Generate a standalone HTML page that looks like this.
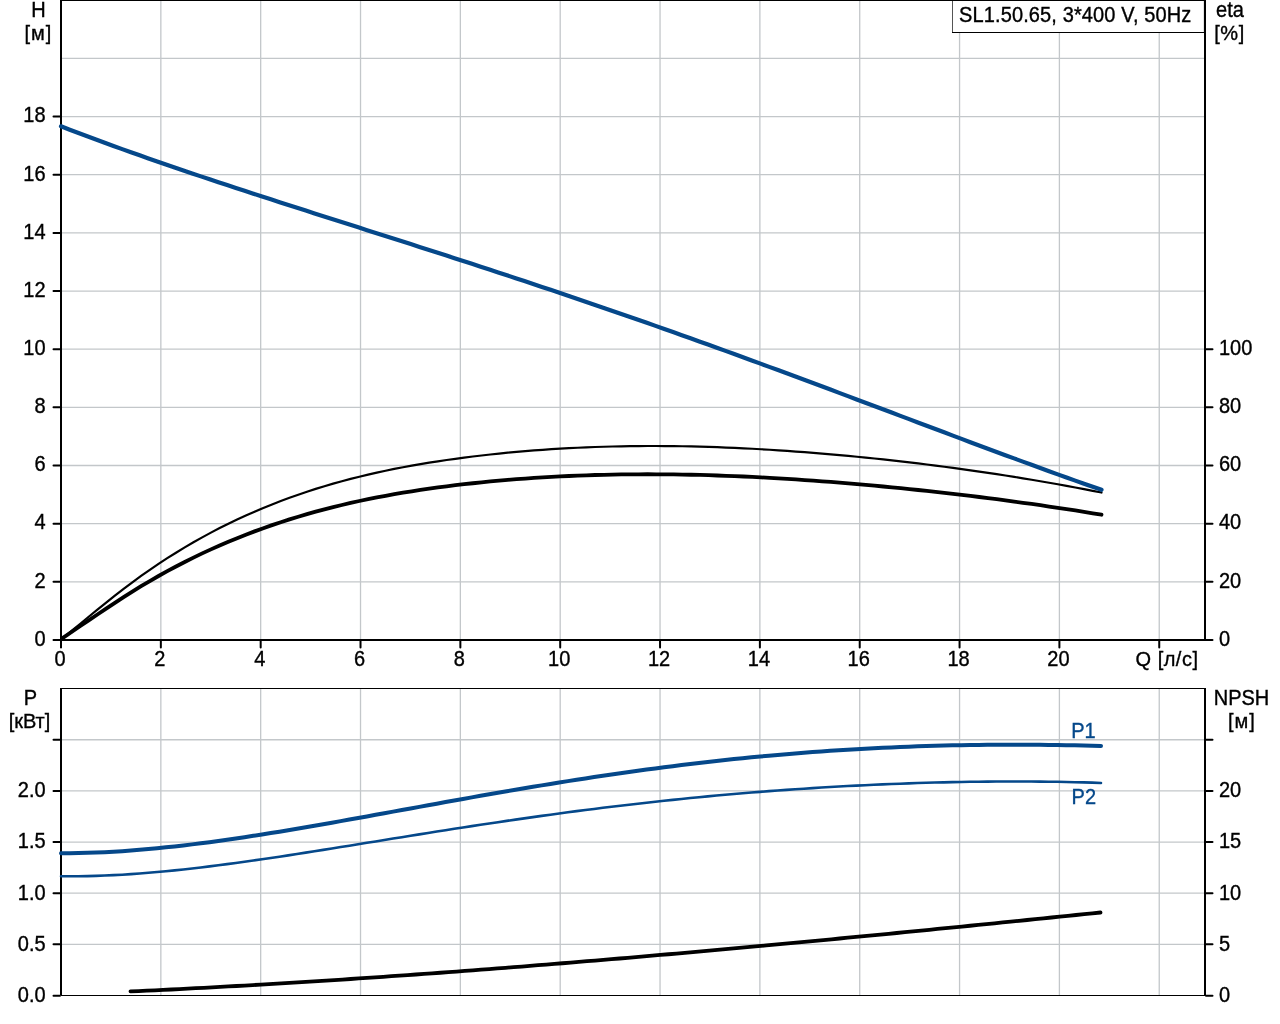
<!DOCTYPE html>
<html><head><meta charset="utf-8"><title>SL1.50.65 pump curve</title>
<style>
html,body{margin:0;padding:0;background:#fff;}
body{width:1280px;height:1024px;overflow:hidden;}
svg{display:block;}
.g{stroke:#c3c7ca;stroke-width:1.3;}
text{font-family:'Liberation Sans',sans-serif;font-size:20px;stroke:currentColor;stroke-width:0.35px;}
</style></head><body>
<svg width="1280" height="1024" viewBox="0 0 1280 1024">
<rect width="1280" height="1024" fill="#fff"/>
<line x1="160.84" y1="1" x2="160.84" y2="639" class="g"/>
<line x1="260.68" y1="1" x2="260.68" y2="639" class="g"/>
<line x1="360.52" y1="1" x2="360.52" y2="639" class="g"/>
<line x1="460.36" y1="1" x2="460.36" y2="639" class="g"/>
<line x1="560.20" y1="1" x2="560.20" y2="639" class="g"/>
<line x1="660.04" y1="1" x2="660.04" y2="639" class="g"/>
<line x1="759.88" y1="1" x2="759.88" y2="639" class="g"/>
<line x1="859.72" y1="1" x2="859.72" y2="639" class="g"/>
<line x1="959.56" y1="1" x2="959.56" y2="639" class="g"/>
<line x1="1059.40" y1="1" x2="1059.40" y2="639" class="g"/>
<line x1="1159.24" y1="1" x2="1159.24" y2="639" class="g"/>
<line x1="61" y1="581.84" x2="1204" y2="581.84" class="g"/>
<line x1="61" y1="523.68" x2="1204" y2="523.68" class="g"/>
<line x1="61" y1="465.52" x2="1204" y2="465.52" class="g"/>
<line x1="61" y1="407.36" x2="1204" y2="407.36" class="g"/>
<line x1="61" y1="349.20" x2="1204" y2="349.20" class="g"/>
<line x1="61" y1="291.04" x2="1204" y2="291.04" class="g"/>
<line x1="61" y1="232.88" x2="1204" y2="232.88" class="g"/>
<line x1="61" y1="174.72" x2="1204" y2="174.72" class="g"/>
<line x1="61" y1="116.56" x2="1204" y2="116.56" class="g"/>
<line x1="61" y1="58.40" x2="1204" y2="58.40" class="g"/>
<line x1="160.84" y1="689" x2="160.84" y2="995" class="g"/>
<line x1="260.68" y1="689" x2="260.68" y2="995" class="g"/>
<line x1="360.52" y1="689" x2="360.52" y2="995" class="g"/>
<line x1="460.36" y1="689" x2="460.36" y2="995" class="g"/>
<line x1="560.20" y1="689" x2="560.20" y2="995" class="g"/>
<line x1="660.04" y1="689" x2="660.04" y2="995" class="g"/>
<line x1="759.88" y1="689" x2="759.88" y2="995" class="g"/>
<line x1="859.72" y1="689" x2="859.72" y2="995" class="g"/>
<line x1="959.56" y1="689" x2="959.56" y2="995" class="g"/>
<line x1="1059.40" y1="689" x2="1059.40" y2="995" class="g"/>
<line x1="1159.24" y1="689" x2="1159.24" y2="995" class="g"/>
<line x1="61" y1="944.35" x2="1204" y2="944.35" class="g"/>
<line x1="61" y1="893.20" x2="1204" y2="893.20" class="g"/>
<line x1="61" y1="842.05" x2="1204" y2="842.05" class="g"/>
<line x1="61" y1="790.90" x2="1204" y2="790.90" class="g"/>
<line x1="61" y1="739.75" x2="1204" y2="739.75" class="g"/>
<rect x="952" y="0" width="252" height="33" fill="#fff"/>
<rect x="952" y="0" width="1" height="33" fill="#555"/>
<rect x="952" y="32" width="252" height="1" fill="#000"/>
<rect x="1203" y="1" width="1" height="31" fill="#e4e4e4"/>
<rect x="60" y="0" width="1146" height="1" fill="#000"/>
<rect x="60" y="0" width="2" height="648" fill="#000"/>
<rect x="60" y="639" width="1146" height="2" fill="#000"/>
<rect x="1204" y="0" width="2" height="641" fill="#000"/>
<rect x="60" y="688" width="1146" height="1" fill="#000"/>
<rect x="60" y="688" width="2" height="307" fill="#000"/>
<rect x="61" y="995" width="1145" height="1" fill="#000"/>
<rect x="1204" y="688" width="2" height="308" fill="#000"/>
<path d="M53.5,640.00 H60 M53.5,581.84 H60 M53.5,523.68 H60 M53.5,465.52 H60 M53.5,407.36 H60 M53.5,349.20 H60 M53.5,291.04 H60 M53.5,232.88 H60 M53.5,174.72 H60 M53.5,116.56 H60 M1206,640.00 H1212.5 M1206,581.84 H1212.5 M1206,523.68 H1212.5 M1206,465.52 H1212.5 M1206,407.36 H1212.5 M1206,349.20 H1212.5 M61.00,641 V647.5 M160.84,641 V647.5 M260.68,641 V647.5 M360.52,641 V647.5 M460.36,641 V647.5 M560.20,641 V647.5 M660.04,641 V647.5 M759.88,641 V647.5 M859.72,641 V647.5 M959.56,641 V647.5 M1059.40,641 V647.5 M1159.24,641 V647.5 M53.5,995.80 H60 M1206,995.80 H1212.5 M53.5,944.35 H60 M1206,944.35 H1212.5 M53.5,893.20 H60 M1206,893.20 H1212.5 M53.5,842.05 H60 M1206,842.05 H1212.5 M53.5,790.90 H60 M1206,790.90 H1212.5 M53.5,739.75 H60 M1206,739.75 H1212.5" stroke="#000" stroke-width="2" stroke-linecap="round" fill="none"/>
<path d="M62.50,638.44 L71.23,631.21 L79.96,623.98 L88.69,616.77 L97.42,609.62 L106.16,602.57 L114.89,595.64 L123.62,588.88 L132.35,582.31 L141.08,575.96 L149.81,569.83 L158.54,563.91 L167.27,558.20 L176.00,552.70 L184.74,547.39 L193.47,542.28 L202.20,537.37 L210.93,532.64 L219.66,528.09 L228.39,523.72 L237.12,519.52 L245.85,515.50 L254.58,511.64 L263.32,507.94 L272.05,504.40 L280.78,501.02 L289.51,497.78 L298.24,494.68 L306.97,491.73 L315.70,488.91 L324.43,486.22 L333.16,483.66 L341.89,481.23 L350.63,478.91 L359.36,476.71 L368.09,474.61 L376.82,472.63 L385.55,470.74 L394.28,468.95 L403.01,467.26 L411.74,465.65 L420.47,464.13 L429.21,462.69 L437.94,461.32 L446.67,460.03 L455.40,458.80 L464.13,457.64 L472.86,456.53 L481.59,455.49 L490.32,454.50 L499.05,453.58 L507.79,452.71 L516.52,451.89 L525.25,451.14 L533.98,450.44 L542.71,449.79 L551.44,449.20 L560.17,448.66 L568.90,448.17 L577.63,447.73 L586.37,447.35 L595.10,447.01 L603.83,446.73 L612.56,446.49 L621.29,446.30 L630.02,446.16 L638.75,446.07 L647.48,446.02 L656.21,446.02 L664.95,446.06 L673.68,446.14 L682.41,446.27 L691.14,446.44 L699.87,446.65 L708.60,446.90 L717.33,447.20 L726.06,447.53 L734.79,447.90 L743.53,448.31 L752.26,448.76 L760.99,449.24 L769.72,449.76 L778.45,450.31 L787.18,450.90 L795.91,451.53 L804.64,452.18 L813.37,452.87 L822.11,453.59 L830.84,454.34 L839.57,455.12 L848.30,455.93 L857.03,456.77 L865.76,457.63 L874.49,458.53 L883.22,459.45 L891.95,460.40 L900.68,461.38 L909.42,462.39 L918.15,463.43 L926.88,464.50 L935.61,465.60 L944.34,466.73 L953.07,467.88 L961.80,469.07 L970.53,470.30 L979.26,471.55 L988.00,472.83 L996.73,474.15 L1005.46,475.50 L1014.19,476.88 L1022.92,478.29 L1031.65,479.74 L1040.38,481.22 L1049.11,482.73 L1057.84,484.28 L1066.58,485.86 L1075.31,487.48 L1084.04,489.13 L1092.77,490.82 L1101.50,492.54" stroke="#000" stroke-width="2.2" fill="none" stroke-linecap="round" stroke-linejoin="round"/>
<path d="M62.50,638.16 L71.23,632.21 L79.96,626.29 L88.69,620.39 L97.42,614.49 L106.16,608.62 L114.89,602.81 L123.62,597.12 L132.35,591.57 L141.08,586.20 L149.81,581.01 L158.54,576.00 L167.27,571.15 L176.00,566.48 L184.74,561.96 L193.47,557.61 L202.20,553.41 L210.93,549.37 L219.66,545.48 L228.39,541.74 L237.12,538.14 L245.85,534.69 L254.58,531.37 L263.32,528.18 L272.05,525.12 L280.78,522.20 L289.51,519.39 L298.24,516.71 L306.97,514.14 L315.70,511.69 L324.43,509.35 L333.16,507.11 L341.89,504.98 L350.63,502.96 L359.36,501.02 L368.09,499.18 L376.82,497.44 L385.55,495.78 L394.28,494.20 L403.01,492.70 L411.74,491.29 L420.47,489.94 L429.21,488.67 L437.94,487.46 L446.67,486.32 L455.40,485.23 L464.13,484.21 L472.86,483.24 L481.59,482.32 L490.32,481.46 L499.05,480.65 L507.79,479.89 L516.52,479.18 L525.25,478.53 L533.98,477.92 L542.71,477.37 L551.44,476.86 L560.17,476.40 L568.90,475.98 L577.63,475.62 L586.37,475.30 L595.10,475.02 L603.83,474.79 L612.56,474.60 L621.29,474.45 L630.02,474.35 L638.75,474.29 L647.48,474.27 L656.21,474.29 L664.95,474.35 L673.68,474.44 L682.41,474.58 L691.14,474.75 L699.87,474.96 L708.60,475.20 L717.33,475.48 L726.06,475.80 L734.79,476.14 L743.53,476.52 L752.26,476.94 L760.99,477.38 L769.72,477.86 L778.45,478.36 L787.18,478.89 L795.91,479.46 L804.64,480.05 L813.37,480.67 L822.11,481.31 L830.84,481.98 L839.57,482.68 L848.30,483.40 L857.03,484.14 L865.76,484.91 L874.49,485.70 L883.22,486.51 L891.95,487.35 L900.68,488.21 L909.42,489.09 L918.15,490.00 L926.88,490.93 L935.61,491.88 L944.34,492.86 L953.07,493.86 L961.80,494.89 L970.53,495.94 L979.26,497.01 L988.00,498.11 L996.73,499.24 L1005.46,500.39 L1014.19,501.56 L1022.92,502.76 L1031.65,503.99 L1040.38,505.23 L1049.11,506.51 L1057.84,507.81 L1066.58,509.14 L1075.31,510.49 L1084.04,511.87 L1092.77,513.27 L1101.50,514.71" stroke="#000" stroke-width="3.8" fill="none" stroke-linecap="round" stroke-linejoin="round"/>
<path d="M61.00,126.31 L69.74,129.68 L78.49,133.00 L87.23,136.30 L95.97,139.55 L104.72,142.77 L113.46,145.96 L122.21,149.12 L130.95,152.25 L139.69,155.35 L148.44,158.42 L157.18,161.47 L165.92,164.49 L174.67,167.50 L183.41,170.48 L192.16,173.43 L200.90,176.37 L209.64,179.30 L218.39,182.20 L227.13,185.09 L235.87,187.97 L244.62,190.83 L253.36,193.69 L262.11,196.53 L270.85,199.36 L279.59,202.18 L288.34,205.00 L297.08,207.80 L305.82,210.61 L314.57,213.40 L323.31,216.20 L332.05,218.99 L340.80,221.77 L349.54,224.56 L358.29,227.35 L367.03,230.13 L375.77,232.92 L384.52,235.71 L393.26,238.50 L402.00,241.30 L410.75,244.10 L419.49,246.90 L428.24,249.71 L436.98,252.52 L445.72,255.34 L454.47,258.17 L463.21,261.00 L471.95,263.84 L480.70,266.69 L489.44,269.55 L498.18,272.42 L506.93,275.29 L515.67,278.18 L524.42,281.07 L533.16,283.98 L541.90,286.90 L550.65,289.83 L559.39,292.77 L568.13,295.72 L576.88,298.68 L585.62,301.65 L594.37,304.64 L603.11,307.64 L611.85,310.65 L620.60,313.67 L629.34,316.71 L638.08,319.75 L646.83,322.81 L655.57,325.88 L664.32,328.97 L673.06,332.06 L681.80,335.17 L690.55,338.29 L699.29,341.42 L708.03,344.56 L716.78,347.71 L725.52,350.88 L734.26,354.05 L743.01,357.23 L751.75,360.43 L760.50,363.63 L769.24,366.85 L777.98,370.07 L786.73,373.30 L795.47,376.54 L804.21,379.79 L812.96,383.05 L821.70,386.31 L830.45,389.57 L839.19,392.85 L847.93,396.13 L856.68,399.41 L865.42,402.69 L874.16,405.98 L882.91,409.28 L891.65,412.57 L900.39,415.86 L909.14,419.16 L917.88,422.45 L926.63,425.75 L935.37,429.04 L944.11,432.32 L952.86,435.61 L961.60,438.89 L970.34,442.16 L979.09,445.43 L987.83,448.68 L996.58,451.93 L1005.32,455.17 L1014.06,458.40 L1022.81,461.62 L1031.55,464.82 L1040.29,468.01 L1049.04,471.19 L1057.78,474.35 L1066.53,477.49 L1075.27,480.61 L1084.01,483.71 L1092.76,486.79 L1101.50,489.85" stroke="#05488a" stroke-width="4.2" fill="none" stroke-linecap="round" stroke-linejoin="round"/>
<path d="M61.00,876.26 L69.74,876.31 L78.48,876.26 L87.22,876.12 L95.96,875.89 L104.70,875.57 L113.44,875.17 L122.18,874.69 L130.92,874.13 L139.66,873.51 L148.39,872.81 L157.13,872.06 L165.87,871.25 L174.61,870.38 L183.35,869.45 L192.09,868.48 L200.83,867.46 L209.57,866.40 L218.31,865.29 L227.05,864.15 L235.79,862.98 L244.53,861.77 L253.27,860.54 L262.01,859.27 L270.75,857.99 L279.49,856.68 L288.23,855.35 L296.97,854.00 L305.71,852.64 L314.45,851.26 L323.18,849.88 L331.92,848.48 L340.66,847.08 L349.40,845.67 L358.14,844.25 L366.88,842.84 L375.62,841.42 L384.36,840.00 L393.10,838.59 L401.84,837.17 L410.58,835.76 L419.32,834.36 L428.06,832.97 L436.80,831.58 L445.54,830.20 L454.28,828.83 L463.02,827.47 L471.76,826.13 L480.50,824.79 L489.24,823.47 L497.97,822.17 L506.71,820.88 L515.45,819.60 L524.19,818.34 L532.93,817.10 L541.67,815.88 L550.41,814.67 L559.15,813.48 L567.89,812.31 L576.63,811.16 L585.37,810.03 L594.11,808.92 L602.85,807.83 L611.59,806.76 L620.33,805.71 L629.07,804.68 L637.81,803.67 L646.55,802.68 L655.29,801.72 L664.03,800.78 L672.76,799.85 L681.50,798.95 L690.24,798.08 L698.98,797.22 L707.72,796.39 L716.46,795.57 L725.20,794.78 L733.94,794.02 L742.68,793.27 L751.42,792.55 L760.16,791.85 L768.90,791.17 L777.64,790.51 L786.38,789.88 L795.12,789.27 L803.86,788.68 L812.60,788.11 L821.34,787.56 L830.08,787.04 L838.82,786.54 L847.55,786.06 L856.29,785.61 L865.03,785.18 L873.77,784.77 L882.51,784.38 L891.25,784.02 L899.99,783.68 L908.73,783.36 L917.47,783.06 L926.21,782.79 L934.95,782.55 L943.69,782.33 L952.43,782.13 L961.17,781.96 L969.91,781.81 L978.65,781.69 L987.39,781.59 L996.13,781.52 L1004.87,781.48 L1013.61,781.46 L1022.34,781.48 L1031.08,781.52 L1039.82,781.59 L1048.56,781.69 L1057.30,781.82 L1066.04,781.98 L1074.78,782.18 L1083.52,782.41 L1092.26,782.67 L1101.00,782.97" stroke="#05488a" stroke-width="2.6" fill="none" stroke-linecap="round" stroke-linejoin="round"/>
<path d="M61.00,853.27 L69.74,853.23 L78.48,853.09 L87.22,852.86 L95.96,852.55 L104.70,852.16 L113.44,851.68 L122.18,851.13 L130.92,850.51 L139.66,849.82 L148.39,849.06 L157.13,848.24 L165.87,847.36 L174.61,846.42 L183.35,845.43 L192.09,844.38 L200.83,843.29 L209.57,842.15 L218.31,840.97 L227.05,839.74 L235.79,838.48 L244.53,837.18 L253.27,835.85 L262.01,834.48 L270.75,833.09 L279.49,831.67 L288.23,830.22 L296.97,828.76 L305.71,827.27 L314.45,825.76 L323.18,824.23 L331.92,822.69 L340.66,821.14 L349.40,819.58 L358.14,818.00 L366.88,816.42 L375.62,814.83 L384.36,813.24 L393.10,811.65 L401.84,810.05 L410.58,808.45 L419.32,806.86 L428.06,805.26 L436.80,803.68 L445.54,802.09 L454.28,800.52 L463.02,798.95 L471.76,797.39 L480.50,795.84 L489.24,794.30 L497.97,792.78 L506.71,791.26 L515.45,789.77 L524.19,788.28 L532.93,786.82 L541.67,785.37 L550.41,783.93 L559.15,782.52 L567.89,781.13 L576.63,779.75 L585.37,778.40 L594.11,777.07 L602.85,775.76 L611.59,774.47 L620.33,773.21 L629.07,771.97 L637.81,770.76 L646.55,769.56 L655.29,768.40 L664.03,767.26 L672.76,766.15 L681.50,765.06 L690.24,764.00 L698.98,762.96 L707.72,761.96 L716.46,760.98 L725.20,760.03 L733.94,759.10 L742.68,758.21 L751.42,757.34 L760.16,756.50 L768.90,755.70 L777.64,754.92 L786.38,754.16 L795.12,753.44 L803.86,752.75 L812.60,752.08 L821.34,751.45 L830.08,750.84 L838.82,750.26 L847.55,749.72 L856.29,749.20 L865.03,748.71 L873.77,748.25 L882.51,747.81 L891.25,747.41 L899.99,747.03 L908.73,746.69 L917.47,746.37 L926.21,746.08 L934.95,745.82 L943.69,745.58 L952.43,745.37 L961.17,745.20 L969.91,745.04 L978.65,744.92 L987.39,744.82 L996.13,744.75 L1004.87,744.71 L1013.61,744.69 L1022.34,744.70 L1031.08,744.73 L1039.82,744.80 L1048.56,744.88 L1057.30,744.99 L1066.04,745.13 L1074.78,745.29 L1083.52,745.48 L1092.26,745.69 L1101.00,745.92" stroke="#05488a" stroke-width="4.0" fill="none" stroke-linecap="round" stroke-linejoin="round"/>
<path d="M130.50,991.44 L138.65,991.06 L146.80,990.68 L154.95,990.29 L163.11,989.89 L171.26,989.48 L179.41,989.07 L187.56,988.65 L195.71,988.22 L203.86,987.79 L212.01,987.35 L220.16,986.91 L228.32,986.46 L236.47,986.00 L244.62,985.54 L252.77,985.07 L260.92,984.60 L269.07,984.12 L277.22,983.63 L285.37,983.14 L293.53,982.64 L301.68,982.13 L309.83,981.62 L317.98,981.11 L326.13,980.59 L334.28,980.06 L342.43,979.53 L350.58,978.99 L358.74,978.45 L366.89,977.90 L375.04,977.35 L383.19,976.79 L391.34,976.22 L399.49,975.65 L407.64,975.08 L415.79,974.50 L423.95,973.91 L432.10,973.32 L440.25,972.73 L448.40,972.13 L456.55,971.52 L464.70,970.92 L472.85,970.30 L481.00,969.68 L489.16,969.06 L497.31,968.43 L505.46,967.80 L513.61,967.16 L521.76,966.52 L529.91,965.87 L538.06,965.22 L546.21,964.57 L554.37,963.91 L562.52,963.24 L570.67,962.58 L578.82,961.90 L586.97,961.23 L595.12,960.55 L603.27,959.87 L611.42,959.18 L619.58,958.49 L627.73,957.79 L635.88,957.09 L644.03,956.39 L652.18,955.68 L660.33,954.97 L668.48,954.26 L676.63,953.54 L684.79,952.82 L692.94,952.09 L701.09,951.36 L709.24,950.63 L717.39,949.90 L725.54,949.16 L733.69,948.42 L741.84,947.67 L750.00,946.93 L758.15,946.18 L766.30,945.42 L774.45,944.67 L782.60,943.91 L790.75,943.14 L798.90,942.38 L807.05,941.61 L815.21,940.84 L823.36,940.07 L831.51,939.29 L839.66,938.51 L847.81,937.73 L855.96,936.95 L864.11,936.16 L872.26,935.37 L880.42,934.58 L888.57,933.79 L896.72,932.99 L904.87,932.19 L913.02,931.39 L921.17,930.59 L929.32,929.79 L937.47,928.98 L945.63,928.17 L953.78,927.36 L961.93,926.55 L970.08,925.74 L978.23,924.92 L986.38,924.10 L994.53,923.28 L1002.68,922.46 L1010.84,921.64 L1018.99,920.82 L1027.14,919.99 L1035.29,919.17 L1043.44,918.34 L1051.59,917.51 L1059.74,916.68 L1067.89,915.84 L1076.05,915.01 L1084.20,914.18 L1092.35,913.34 L1100.50,912.50" stroke="#000" stroke-width="3.8" fill="none" stroke-linecap="round" stroke-linejoin="round"/>
<text transform="translate(38.50,17.00) scale(1,1.07)" text-anchor="middle" fill="#000" color="#000">H</text>
<text x="38.50" y="40.00" text-anchor="middle" fill="#000" color="#000" letter-spacing="1">[м]</text>
<text transform="translate(45.60,645.80) scale(1,1.07)" text-anchor="end" fill="#000" color="#000">0</text>
<text transform="translate(45.60,587.64) scale(1,1.07)" text-anchor="end" fill="#000" color="#000">2</text>
<text transform="translate(45.60,529.48) scale(1,1.07)" text-anchor="end" fill="#000" color="#000">4</text>
<text transform="translate(45.60,471.32) scale(1,1.07)" text-anchor="end" fill="#000" color="#000">6</text>
<text transform="translate(45.60,413.16) scale(1,1.07)" text-anchor="end" fill="#000" color="#000">8</text>
<text transform="translate(45.60,355.00) scale(1,1.07)" text-anchor="end" fill="#000" color="#000">10</text>
<text transform="translate(45.60,296.84) scale(1,1.07)" text-anchor="end" fill="#000" color="#000">12</text>
<text transform="translate(45.60,238.68) scale(1,1.07)" text-anchor="end" fill="#000" color="#000">14</text>
<text transform="translate(45.60,180.52) scale(1,1.07)" text-anchor="end" fill="#000" color="#000">16</text>
<text transform="translate(45.60,122.36) scale(1,1.07)" text-anchor="end" fill="#000" color="#000">18</text>
<text transform="translate(60.00,665.50) scale(1,1.07)" text-anchor="middle" fill="#000" color="#000">0</text>
<text transform="translate(159.84,665.50) scale(1,1.07)" text-anchor="middle" fill="#000" color="#000">2</text>
<text transform="translate(259.68,665.50) scale(1,1.07)" text-anchor="middle" fill="#000" color="#000">4</text>
<text transform="translate(359.52,665.50) scale(1,1.07)" text-anchor="middle" fill="#000" color="#000">6</text>
<text transform="translate(459.36,665.50) scale(1,1.07)" text-anchor="middle" fill="#000" color="#000">8</text>
<text transform="translate(559.20,665.50) scale(1,1.07)" text-anchor="middle" fill="#000" color="#000">10</text>
<text transform="translate(659.04,665.50) scale(1,1.07)" text-anchor="middle" fill="#000" color="#000">12</text>
<text transform="translate(758.88,665.50) scale(1,1.07)" text-anchor="middle" fill="#000" color="#000">14</text>
<text transform="translate(858.72,665.50) scale(1,1.07)" text-anchor="middle" fill="#000" color="#000">16</text>
<text transform="translate(958.56,665.50) scale(1,1.07)" text-anchor="middle" fill="#000" color="#000">18</text>
<text transform="translate(1058.40,665.50) scale(1,1.07)" text-anchor="middle" fill="#000" color="#000">20</text>
<text x="1167.00" y="665.50" text-anchor="middle" fill="#000" color="#000" letter-spacing="0.5">Q [л/с]</text>
<text transform="translate(1230.00,17.00) scale(1,1.07)" text-anchor="middle" fill="#000" color="#000">eta</text>
<text x="1229.50" y="40.00" text-anchor="middle" fill="#000" color="#000" letter-spacing="0.5">[%]</text>
<text transform="translate(1219.00,645.80) scale(1,1.07)" text-anchor="start" fill="#000" color="#000">0</text>
<text transform="translate(1219.00,587.64) scale(1,1.07)" text-anchor="start" fill="#000" color="#000">20</text>
<text transform="translate(1219.00,529.48) scale(1,1.07)" text-anchor="start" fill="#000" color="#000">40</text>
<text transform="translate(1219.00,471.32) scale(1,1.07)" text-anchor="start" fill="#000" color="#000">60</text>
<text transform="translate(1219.00,413.16) scale(1,1.07)" text-anchor="start" fill="#000" color="#000">80</text>
<text transform="translate(1219.00,355.00) scale(1,1.07)" text-anchor="start" fill="#000" color="#000">100</text>
<text transform="translate(959.00,21.60) scale(1,1.07)" text-anchor="start" fill="#000" color="#000" letter-spacing="0.13">SL1.50.65, 3*400 V, 50Hz</text>
<text transform="translate(30.50,705.00) scale(1,1.07)" text-anchor="middle" fill="#000" color="#000">P</text>
<text x="29.50" y="728.00" text-anchor="middle" fill="#000" color="#000">[кВт]</text>
<text transform="translate(45.60,1001.90) scale(1,1.07)" text-anchor="end" fill="#000" color="#000">0.0</text>
<text transform="translate(45.60,950.75) scale(1,1.07)" text-anchor="end" fill="#000" color="#000">0.5</text>
<text transform="translate(45.60,899.60) scale(1,1.07)" text-anchor="end" fill="#000" color="#000">1.0</text>
<text transform="translate(45.60,848.45) scale(1,1.07)" text-anchor="end" fill="#000" color="#000">1.5</text>
<text transform="translate(45.60,797.30) scale(1,1.07)" text-anchor="end" fill="#000" color="#000">2.0</text>
<text transform="translate(1241.50,705.00) scale(1,1.07)" text-anchor="middle" fill="#000" color="#000">NPSH</text>
<text x="1242.00" y="728.00" text-anchor="middle" fill="#000" color="#000" letter-spacing="1">[м]</text>
<text transform="translate(1219.00,1001.90) scale(1,1.07)" text-anchor="start" fill="#000" color="#000">0</text>
<text transform="translate(1219.00,950.75) scale(1,1.07)" text-anchor="start" fill="#000" color="#000">5</text>
<text transform="translate(1219.00,899.60) scale(1,1.07)" text-anchor="start" fill="#000" color="#000">10</text>
<text transform="translate(1219.00,848.45) scale(1,1.07)" text-anchor="start" fill="#000" color="#000">15</text>
<text transform="translate(1219.00,797.30) scale(1,1.07)" text-anchor="start" fill="#000" color="#000">20</text>
<text transform="translate(1071.20,738.40) scale(1,1.07)" text-anchor="start" fill="#05488a" color="#05488a">P1</text>
<text transform="translate(1071.60,803.60) scale(1,1.07)" text-anchor="start" fill="#05488a" color="#05488a">P2</text>
</svg>
</body></html>
